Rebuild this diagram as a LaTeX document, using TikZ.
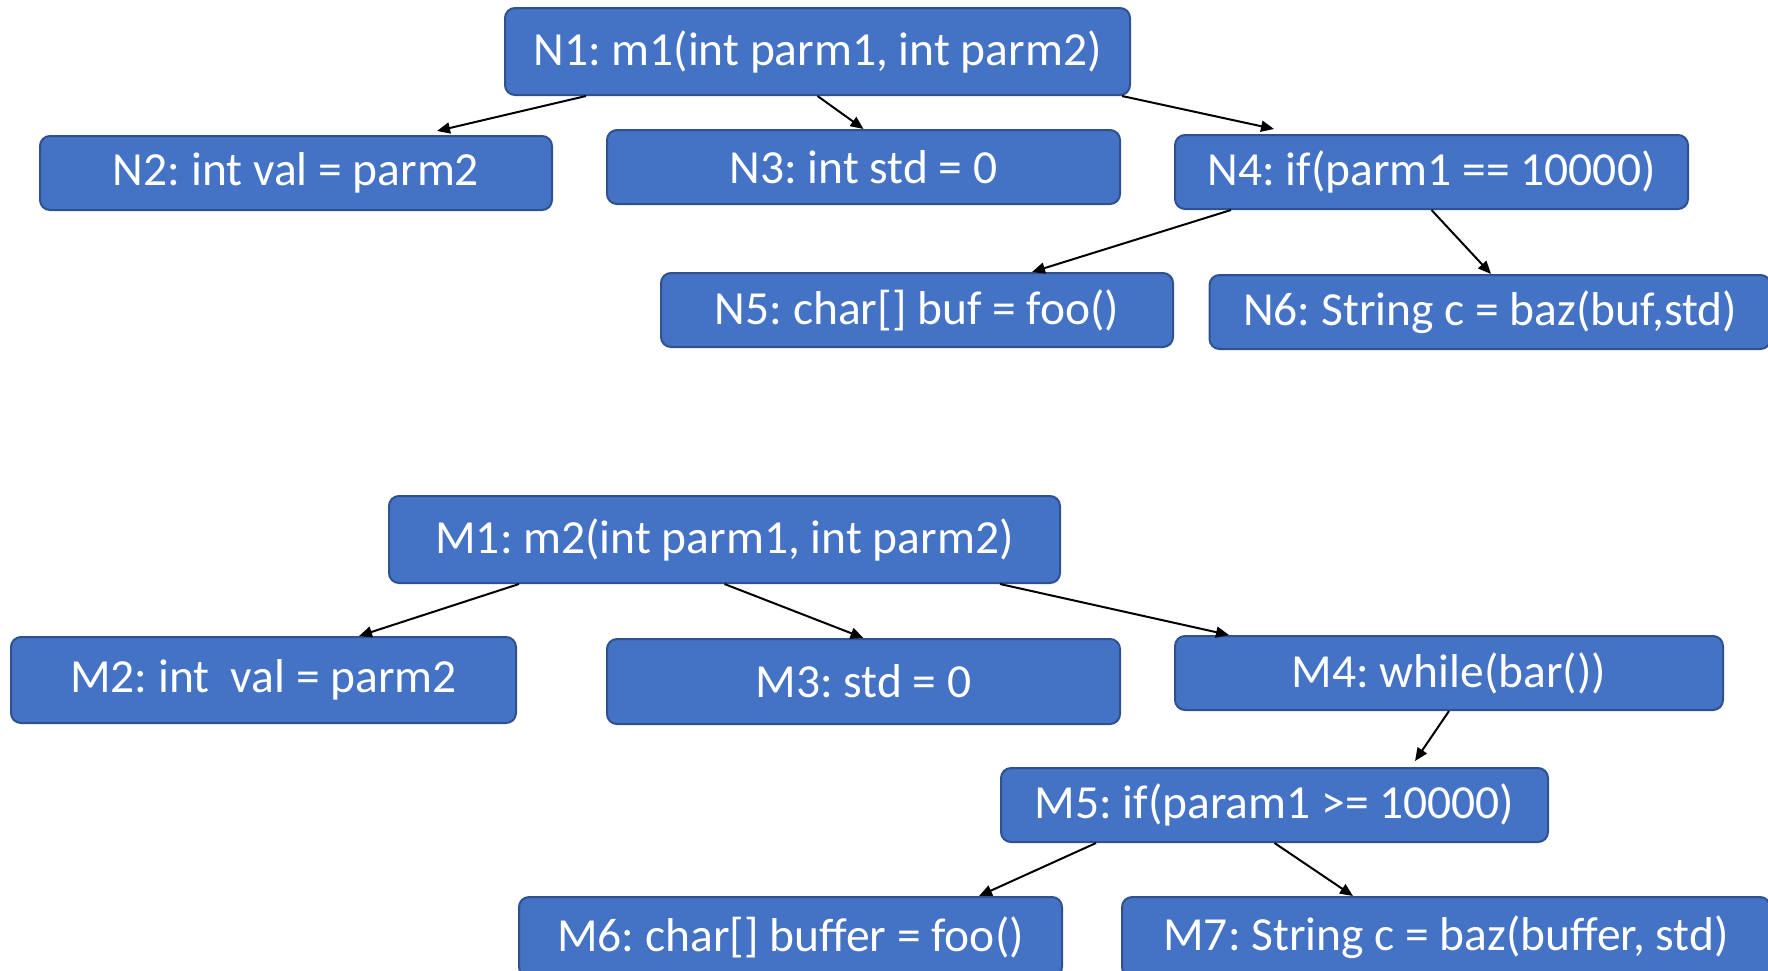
\documentclass[tikz,border=0pt]{standalone}
\usepackage{fontspec}
\setmainfont{Carlito}
\usetikzlibrary{arrows.meta}
\definecolor{boxfill}{HTML}{4472C4}
\definecolor{boxline}{HTML}{2F528F}
\frenchspacing
\tikzset{
  box/.style={draw=boxline, fill=boxfill, line width=2pt, rounded corners=10pt,
    text=white, font=\fontsize{47.5}{52}\selectfont\frenchspacing, inner sep=0pt, anchor=center},
  arr/.style={draw=black, line width=2pt, -{Triangle[length=13pt,width=11pt]}}
}
\begin{document}
\begin{tikzpicture}[x=1pt,y=-1pt]
\useasboundingbox (0,0) rectangle (1768,970);
\clip (0,0) rectangle (1768,970);
% top tree
\node[box, minimum width=625pt, minimum height=87pt] (N1) at (817.5,51.5) {N1: m1(int parm1, int parm2)};
\node[box, minimum width=512pt, minimum height=74pt] (N2) at (296,173) {N2: int val = parm2};
\node[box, minimum width=513pt, minimum height=74pt] (N3) at (863.5,167) {N3: int std = 0};
\node[box, minimum width=513pt, minimum height=74pt] (N4) at (1431.5,172) {N4: if(parm1 == 10000)};
\node[box, minimum width=512pt, minimum height=74pt] (N5) at (917,310) {N5: char[] buf = foo()};
\node[box, minimum width=561pt, minimum height=74pt] (N6) at (1490,312) {N6: String c = baz(buf,std)};
% bottom tree
\node[box, minimum width=671pt, minimum height=87pt] (M1) at (724.5,539.5) {M1: m2(int parm1, int parm2)};
\node[box, minimum width=505pt, minimum height=86pt] (M2) at (263.5,680) {M2: int\ \ val = parm2};
\node[box, minimum width=513pt, minimum height=85pt] (M3) at (863.5,681.5) {M3: std = 0};
\node[box, minimum width=548pt, minimum height=74pt] (M4) at (1449,673) {M4: while(bar())};
\node[box, minimum width=547pt, minimum height=74pt] (M5) at (1274.5,805) {M5: if(param1 >= 10000)};
\node[box, minimum width=543pt, minimum height=80pt] (M6) at (790.5,937) {M6: char[] buffer = foo()};
\node[box, minimum width=648pt, minimum height=80pt] (M7) at (1446,937) {M7: String c = baz(buffer, std)};
% arrows top
\draw[arr] ([xshift=-231.5pt]N1.south) -- ([xshift=141pt,yshift=4pt]N2.north);
\draw[arr] (N1.south) -- (N3.north);
\draw[arr] ([xshift=304.5pt]N1.south) -- ([xshift=-157.5pt,yshift=5pt]N4.north);
\draw[arr] ([xshift=-200.5pt]N4.south) -- ([xshift=115pt]N5.north);
\draw[arr] (N4.south) -- ([xshift=1pt]N6.north);
% arrows bottom
\draw[arr] ([xshift=-205.5pt]M1.south) -- ([xshift=95.5pt]M2.north);
\draw[arr] (M1.south) -- (M3.north);
\draw[arr] ([xshift=275.5pt]M1.south) -- ([xshift=-220pt]M4.north);
\draw[arr] (M4.south) -- ([xshift=140.5pt,yshift=6pt]M5.north);
\draw[arr] ([xshift=-178.5pt]M5.south) -- ([xshift=188.5pt]M6.north);
\draw[arr] (M5.south) -- ([xshift=-93pt]M7.north);
\end{tikzpicture}
\end{document}
